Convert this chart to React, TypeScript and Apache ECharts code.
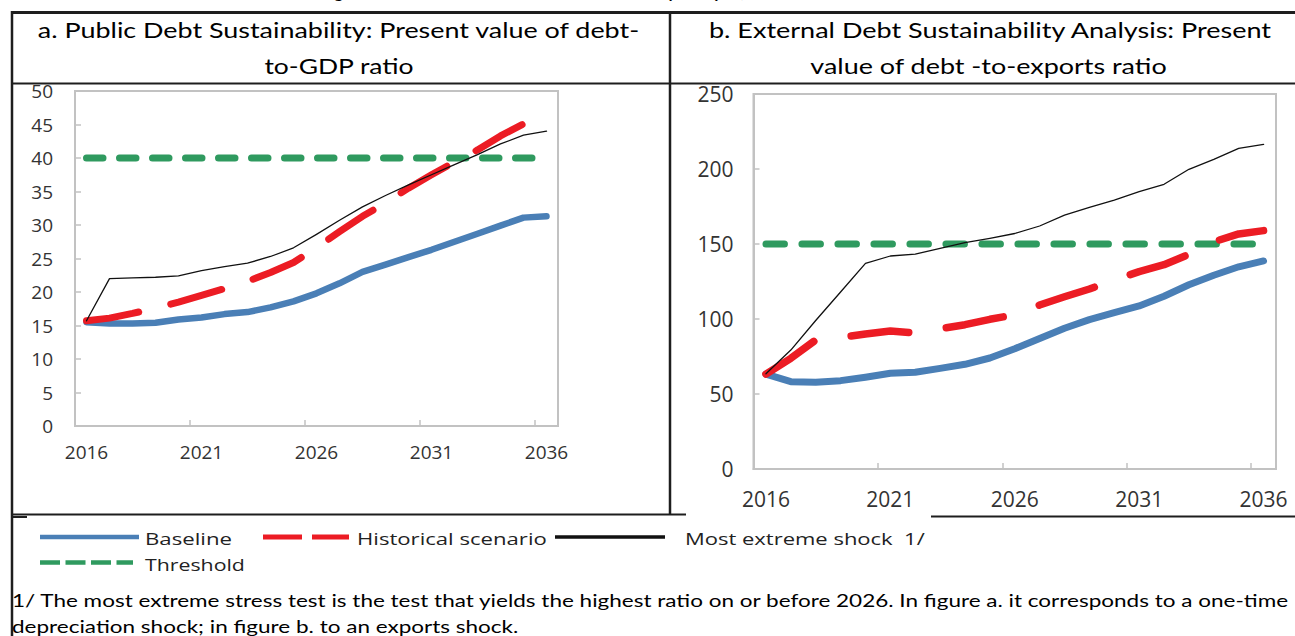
import React, { useEffect, useRef } from "react";
import * as echarts from "echarts";

// ---- data ---------------------------------------------------------------
const years = [
  "2016", "2017", "2018", "2019", "2020", "2021", "2022", "2023", "2024", "2025", "2026",
  "2027", "2028", "2029", "2030", "2031", "2032", "2033", "2034", "2035", "2036",
];

// a. Public debt: PV of debt-to-GDP ratio (%)
const publicBaseline = [15.5, 15.3, 15.3, 15.4, 15.9, 16.2, 16.7, 17.0, 17.7, 18.6, 19.8, 21.3, 23.0, 24.1, 25.2, 26.3, 27.5, 28.7, 29.9, 31.1, 31.3];
const publicHistorical = [15.7, 16.1, 16.8, 17.6, 18.5, 19.5, 20.5, 21.6, 22.9, 24.4, 26.6, 29.0, 31.3, 33.3, 35.5, 37.5, 39.4, 41.2, 43.3, 45.1, null];
const publicExtreme = [15.7, 22.0, 22.1, 22.2, 22.4, 23.2, 23.8, 24.3, 25.3, 26.6, 28.6, 30.7, 32.7, 34.4, 36.0, 37.5, 39.0, 40.5, 42.1, 43.4, 44.0];
const publicThreshold = [40, 40, 40, 40, 40, 40, 40, 40, 40, 40, 40, 40, 40, 40, 40, 40, 40, 40, 40, 40, 40];

// b. External debt: PV of debt-to-exports ratio (%)
const externalBaseline = [63.3, 58.2, 57.8, 58.9, 61.2, 63.8, 64.5, 67.1, 69.8, 74.0, 80.2, 87.0, 93.8, 99.6, 104.2, 108.7, 115.2, 122.8, 129.2, 134.8, 138.7];
const externalHistorical = [63.3, 73.8, 86.0, 87.6, 90.0, 92.0, 90.6, 93.5, 96.2, 99.8, 102.8, 109.3, 114.8, 120.0, 126.0, 131.6, 136.2, 143.1, 151.5, 156.7, 158.9];
const externalExtreme = [63.5, 79.3, 99.0, 118.0, 137.1, 142.0, 143.3, 147.1, 150.9, 153.8, 157.0, 162.0, 169.3, 174.4, 179.3, 184.9, 189.8, 199.8, 206.4, 213.8, 216.4];
const externalThreshold = [150, 150, 150, 150, 150, 150, 150, 150, 150, 150, 150, 150, 150, 150, 150, 150, 150, 150, 150, 150, 150];

// ---- texts --------------------------------------------------------------
const figureTitle = "Figure 2. Public and External Debt Sustainability Analysis, 2016–36";
const panelATitle = ["a. Public Debt Sustainability: Present value of debt-", "to-GDP ratio"];
const panelBTitle = ["b. External Debt Sustainability Analysis: Present", "value of debt -to-exports ratio"];
const seriesNames = ["Baseline", "Historical scenario", "Most extreme shock  1/", "Threshold"];
const footnote = [
  "1/ The most extreme stress test is the test that yields the highest ratio on or before 2026. In figure a. it corresponds to a one-time",
  "depreciation shock; in figure b. to an exports shock.",
];

// ---- styling ------------------------------------------------------------
const BLUE = "#4A7FB6";
const RED = "#EC1C24";
const BLACK = "#111111";
const GREEN = "#2F9A5F";
const FRAME = "#1E1E1E";
const AXIS_GRAY = "#C2C2C2";
const TICK_FONT = "Open Sans";
const LABEL_FONT = "Lato";

let measureCtx: CanvasRenderingContext2D | null = null;
function textWidth(text: string, font: string): number {
  if (!measureCtx) measureCtx = document.createElement("canvas").getContext("2d");
  if (!measureCtx) return text.length * 10;
  measureCtx.font = font;
  return measureCtx.measureText(text).width;
}

type TextOpts = {
  size: number;
  family: string;
  weight?: string;
  italic?: boolean;
  align?: "left" | "center" | "right";
  width?: number; // stretch horizontally to this width
  scale?: number;
  color?: string;
};

function textEl(text: string, x: number, y: number, o: TextOpts) {
  const font = `${o.italic ? "italic " : ""}${o.weight || "normal"} ${o.size}px "${o.family}"`;
  let s = o.scale ?? 1;
  if (o.width) s = o.width / textWidth(text, font);
  return {
    type: "text",
    x,
    y,
    scaleX: s,
    silent: true,
    style: {
      text,
      fontSize: o.size,
      fontFamily: o.family,
      fontWeight: o.weight || "normal",
      fontStyle: o.italic ? "italic" : "normal",
      fill: o.color || "#000",
      align: o.align || "left",
      verticalAlign: "middle",
    },
  };
}

function lineEl(x1: number, y1: number, x2: number, y2: number, color: string, width: number, dash?: number[]) {
  return {
    type: "line",
    silent: true,
    shape: { x1, y1, x2, y2 },
    style: { stroke: color, lineWidth: width, lineDash: dash || null, lineCap: "butt" },
  };
}

function buildGraphic() {
  const els: any[] = [];

  // figure title, running off the top edge above the frame
  const tf = `italic bold 16px "${LABEL_FONT}"`;
  const gCenter = textWidth("Fi", tf) + textWidth("g", tf) / 2;
  const commaCenter =
    textWidth("Figure 2. Public and External Debt Sustainability Analysis", tf) + textWidth(",", tf) / 2;
  const ts = (744 - 340) / (commaCenter - gCenter);
  els.push(textEl(figureTitle, 340 - ts * gCenter, -8, { size: 16, family: LABEL_FONT, weight: "bold", italic: true, scale: ts }));

  // table frame
  els.push(lineEl(11, 12.5, 1295, 12.5, FRAME, 3));
  els.push(lineEl(12, 11, 12, 636, FRAME, 2.5));
  els.push(lineEl(670, 12, 670, 515, FRAME, 2.5));
  els.push(lineEl(12, 83.5, 1295, 83.5, FRAME, 2));
  els.push(lineEl(12, 514.5, 686, 514.5, FRAME, 2));
  els.push(lineEl(12, 517, 27, 517, FRAME, 2));
  els.push(lineEl(931, 516.5, 1295, 516.5, FRAME, 2));

  // panel headers
  els.push(textEl(panelATitle[0], 338.5, 30, { size: 21, family: LABEL_FONT, align: "center", width: 603 }));
  els.push(textEl(panelATitle[1], 339, 65.5, { size: 21, family: LABEL_FONT, align: "center", width: 150 }));
  els.push(textEl(panelBTitle[0], 990, 30, { size: 21, family: LABEL_FONT, align: "center", width: 564 }));
  els.push(textEl(panelBTitle[1], 988.5, 65.5, { size: 21, family: LABEL_FONT, align: "center", width: 357 }));

  // legend
  els.push(lineEl(40, 537, 139, 537, BLUE, 4.5));
  els.push(textEl(seriesNames[0], 145, 538.5, { size: 17, family: TICK_FONT, width: 87, color: "#222" }));
  els.push(lineEl(263, 537, 349, 537, RED, 5, [39, 10]));
  els.push(textEl(seriesNames[1], 357, 538.5, { size: 17, family: TICK_FONT, width: 190, color: "#222" }));
  els.push(lineEl(555, 537, 665, 537, BLACK, 3.5));
  els.push(textEl(seriesNames[2], 685, 538.5, { size: 17, family: TICK_FONT, width: 240, color: "#222" }));
  els.push(lineEl(40, 562.5, 133, 562.5, GREEN, 4.5, [20, 5.5]));
  els.push(textEl(seriesNames[3], 145, 564, { size: 17, family: TICK_FONT, width: 100, color: "#222" }));

  // footnote
  const ff = `18px "${LABEL_FONT}"`;
  const fs = 1278 / textWidth(footnote[0], ff);
  els.push(textEl(footnote[0], 12, 600, { size: 18, family: LABEL_FONT, scale: fs }));
  els.push(textEl(footnote[1], 12, 626, { size: 18, family: LABEL_FONT, scale: fs }));

  return els;
}

function xAxis(gridIndex: number, fontSize: number, margin: number) {
  return {
    type: "category",
    gridIndex,
    data: years,
    boundaryGap: true,
    axisLine: { show: true, lineStyle: { color: AXIS_GRAY, width: 2 } },
    axisTick: { show: true, inside: true, length: 6, interval: 4, alignWithLabel: false, lineStyle: { color: AXIS_GRAY, width: 1.5 } },
    axisLabel: { interval: 4, margin, fontSize, fontFamily: TICK_FONT, color: "#333" },
    splitLine: { show: false },
  };
}

function yAxis(gridIndex: number, max: number, interval: number, fontSize: number, margin: number) {
  return {
    type: "value",
    gridIndex,
    min: 0,
    max,
    interval,
    axisLine: { show: true, lineStyle: { color: AXIS_GRAY, width: 2 } },
    axisTick: { show: true, inside: true, length: 6, lineStyle: { color: AXIS_GRAY, width: 1.5 } },
    axisLabel: { margin, fontSize, fontFamily: TICK_FONT, color: "#333" },
    splitLine: { show: false },
  };
}

function lineSeries(name: string, data: (number | null)[], idx: number, color: string, width: number, type: any, z: number) {
  return {
    type: "line",
    name,
    data,
    xAxisIndex: idx,
    yAxisIndex: idx,
    symbol: "none",
    showSymbol: false,
    smooth: false,
    connectNulls: false,
    silent: true,
    z,
    lineStyle: { color, width, type, dashOffset: 0, cap: "round", join: "round" },
    emphasis: { disabled: true },
  };
}

function buildOption() {
  return {
    animation: false,
    backgroundColor: "#ffffff",
    grid: [
      { left: 75, top: 91, width: 483, height: 335, show: true, borderColor: AXIS_GRAY, borderWidth: 2, backgroundColor: "transparent" },
      { left: 753.5, top: 94, width: 522.5, height: 375, show: true, borderColor: AXIS_GRAY, borderWidth: 2, backgroundColor: "transparent" },
    ],
    xAxis: [xAxis(0, 19, 16), xAxis(1, 21, 19)],
    yAxis: [yAxis(0, 50, 5, 19, 22), yAxis(1, 250, 50, 21, 20)],
    series: [
      lineSeries(seriesNames[0], publicBaseline, 0, BLUE, 6.5, "solid", 2),
      lineSeries(seriesNames[3], publicThreshold, 0, GREEN, 7, [16.5, 16.5], 3),
      lineSeries(seriesNames[1], publicHistorical, 0, RED, 7, [53, 33], 4),
      lineSeries(seriesNames[2], publicExtreme, 0, BLACK, 1.3, "solid", 5),
      lineSeries(seriesNames[0], externalBaseline, 1, BLUE, 7, "solid", 2),
      lineSeries(seriesNames[3], externalThreshold, 1, GREEN, 7, [18.5, 17.5], 3),
      lineSeries(seriesNames[1], externalHistorical, 1, RED, 7.5, [58, 38], 4),
      lineSeries(seriesNames[2], externalExtreme, 1, BLACK, 1.3, "solid", 5),
    ],
    graphic: buildGraphic(),
  };
}

export default function App() {
  const ref = useRef<HTMLDivElement>(null);
  useEffect(() => {
    if (!ref.current) return;
    const chart = echarts.init(ref.current, null, { renderer: "svg" });
    chart.setOption(buildOption() as any);
    return () => chart.dispose();
  }, []);
  return (
    <div
      ref={ref}
      style={{ position: "absolute", left: 0, top: 0, width: 1295, height: 636, background: "#fff" }}
    />
  );
}
